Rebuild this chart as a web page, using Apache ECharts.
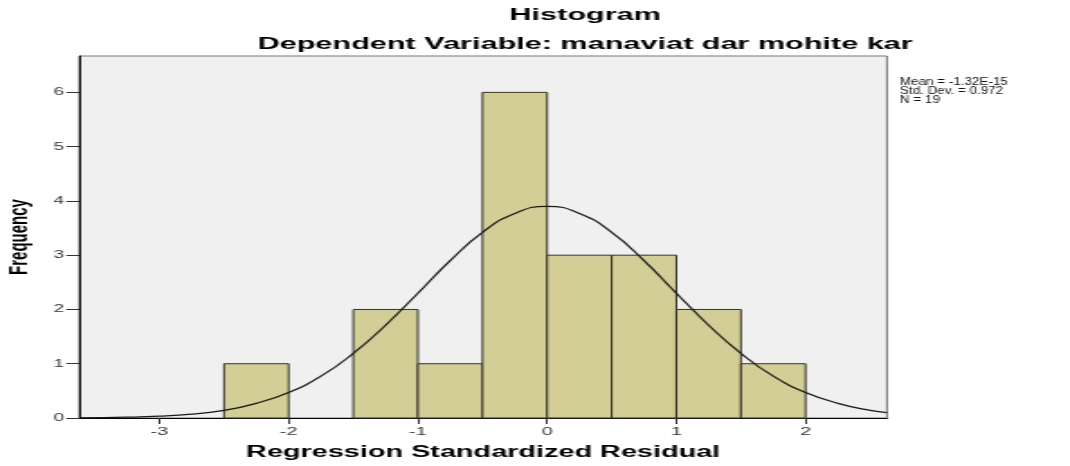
<!DOCTYPE html>
<html>
<head>
<meta charset="utf-8">
<script src="https://cdn.jsdelivr.net/npm/echarts@6/dist/echarts.min.js"></script>
<style>
body { margin: 0; overflow: hidden; background: #fff; }
/* the reference is a horizontally stretched SPSS picture, so the chart is drawn narrow and stretched */
#chart_hist { width: 594px; height: 466px; transform: scaleX(1.80135); transform-origin: 0 0; }
</style>
</head>
<body>
<div id="chart_hist"></div>
<script>
// Histogram bins (edges) and frequencies
var binEdges = [-2.5, -2, -1.5, -1, -0.5, 0, 0.5, 1, 1.5, 2];
var binCounts = [1, 0, 2, 1, 6, 3, 3, 2, 1];

// Normal curve
var curveX = [-3.62, -3.25, -3, -2.75, -2.5, -2.25, -2, -1.75, -1.5, -1.25, -1, -0.75, -0.5, -0.25,
              0, 0.25, 0.5, 0.75, 1, 1.25, 1.5, 1.75, 2, 2.25, 2.5, 2.63];
var curveY = [0.004, 0.015, 0.033, 0.071, 0.14, 0.27, 0.47, 0.77, 1.19, 1.71, 2.30, 2.90, 3.42, 3.77,
              3.90, 3.77, 3.42, 2.90, 2.30, 1.71, 1.19, 0.77, 0.47, 0.27, 0.14, 0.10];

// Tick labels
var xTicks = [-3, -2, -1, 0, 1, 2];
var yTicks = [0, 1, 2, 3, 4, 5, 6];

var statsLines = ['Mean = -1.32E-15', 'Std. Dev. = 0.972', 'N = 19'];

var font = 'Liberation Sans, Arial, sans-serif';

function create_histogram() {
    var myChart = echarts.init(document.getElementById('chart_hist'));

    var barData = [];
    for (var i = 0; i < binCounts.length; i++) {
        if (binCounts[i] > 0) barData.push([binEdges[i], binEdges[i + 1], binCounts[i]]);
    }
    var curveData = [];
    for (var j = 0; j < curveX.length; j++) curveData.push([curveX[j], curveY[j]]);

    var option = {
        animation: false,
        textStyle: { fontFamily: font },
        graphic: [
            {
                type: 'text', x: 324.8, y: 15,
                style: { text: 'Histogram', font: 'bold 17px ' + font, fill: '#000', align: 'center', verticalAlign: 'middle' }
            },
            {
                type: 'text', x: 324.8, y: 44,
                style: { text: 'Dependent Variable: manaviat dar mohite kar', font: 'bold 17px ' + font, fill: '#000', align: 'center', verticalAlign: 'middle' }
            },
            {
                type: 'text', x: 499.6, y: 77.5, scaleX: 0.71,
                style: { text: statsLines.join('\n'), font: '10.5px ' + font, lineHeight: 9, fill: '#111', align: 'left', verticalAlign: 'top' }
            }
        ],
        grid: {
            left: 44, right: 101.6, top: 56, bottom: 48,
            outerBoundsMode: 'none',
            containLabel: false,
            show: true,
            backgroundColor: '#f0f0f0',
            borderColor: '#777',
            borderWidth: 1
        },
        xAxis: {
            type: 'value',
            min: -3.62,
            max: 2.63,
            name: 'Regression Standardized Residual',
            nameLocation: 'middle',
            nameGap: 27,
            nameTextStyle: { fontSize: 16, fontWeight: 'bold', color: '#000', fontFamily: font },
            splitLine: { show: false },
            axisLine: { onZero: false, lineStyle: { color: '#000', width: 1 } },
            axisTick: { customValues: xTicks, length: 6, lineStyle: { color: '#333' } },
            axisLabel: { customValues: xTicks, fontSize: 11, color: '#333', margin: 8 }
        },
        yAxis: {
            type: 'value',
            min: 0,
            max: 6.67,
            name: 'Frequency',
            nameLocation: 'middle',
            nameGap: 25,
            nameTextStyle: { fontSize: 15, fontWeight: 'bold', color: '#000', fontFamily: font },
            splitLine: { show: false },
            axisLine: { show: true, onZero: false, lineStyle: { color: '#000', width: 1 } },
            axisTick: { show: true, customValues: yTicks, length: 7.2, lineStyle: { color: '#333' } },
            axisLabel: { customValues: yTicks, fontSize: 10.5, color: '#333', margin: 8.5 }
        },
        series: [
            {
                type: 'custom',
                data: barData,
                encode: { x: [0, 1], y: 2 },
                renderItem: function (params, api) {
                    var topLeft = api.coord([api.value(0), api.value(2)]);
                    var bottomRight = api.coord([api.value(1), 0]);
                    return {
                        type: 'rect',
                        shape: {
                            x: topLeft[0],
                            y: topLeft[1],
                            width: bottomRight[0] - topLeft[0],
                            height: bottomRight[1] - topLeft[1]
                        },
                        style: { fill: '#d3cd96', stroke: '#34342a', lineWidth: 1 }
                    };
                }
            },
            {
                type: 'line',
                data: curveData,
                smooth: true,
                showSymbol: false,
                lineStyle: { color: '#1a1a1a', width: 1.2 },
                z: 5
            }
        ]
    };
    myChart.setOption(option);
}

create_histogram();
</script>
</body>
</html>
